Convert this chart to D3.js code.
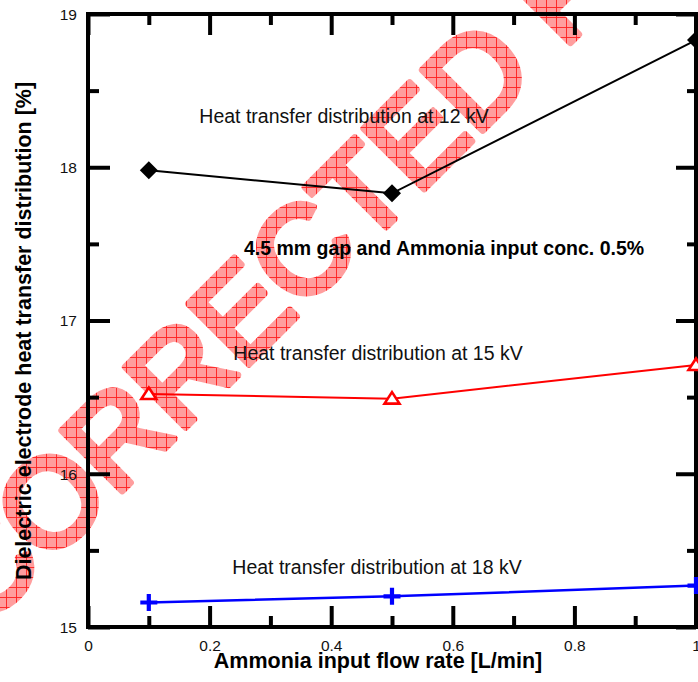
<!DOCTYPE html>
<html>
<head>
<meta charset="utf-8">
<script src="https://cdn.jsdelivr.net/npm/d3@7"></script>
<style>
  html, body { margin: 0; padding: 0; background: #fff; }
  svg { display: block; }
</style>
</head>
<body>
<svg id="chart" width="698" height="682"></svg>
<script>
// Flow rates and heat transfer shares at three applied voltages
const flowRates = [0.1, 0.5, 1.0];
const heat12kV = [17.98, 17.83, 18.83];
const heat15kV = [16.52, 16.49, 16.71];
const heat18kV = [15.16, 15.20, 15.27];

const xMajorTicks = [0, 0.2, 0.4, 0.6, 0.8, 1];
const xMinorTicks = [0.1, 0.3, 0.5, 0.7, 0.9];
const yMajorTicks = [15, 16, 17, 18, 19];
const yMinorTicks = [15.5, 16.5, 17.5, 18.5];

const xTitle = "Ammonia input flow rate [L/min]";
const yTitle = "Dielectric electrode heat transfer distribution [%]";
const seriesLabels = [
  "Heat transfer distribution at 12 kV",
  "Heat transfer distribution at 15 kV",
  "Heat transfer distribution at 18 kV"
];
const conditionLabel = "4.5 mm gap and Ammonia input conc. 0.5%";
const stampText = "UNCORRECTED PROOF";

const svg = d3.select("#chart");
const plotL = 88, plotR = 696, plotT = 14, plotB = 627;

const x = d3.scaleLinear().domain([0, 1]).range([plotL, plotR]);
const y = d3.scaleLinear().domain([15, 19]).range([plotB, plotT]);

// Hatched stamp fill
const defs = svg.append("defs");
const pat = defs.append("pattern")
  .attr("id", "hatch")
  .attr("patternUnits", "userSpaceOnUse")
  .attr("width", 10).attr("height", 10)
  .attr("patternTransform", "rotate(45)");
pat.append("rect").attr("width", 10).attr("height", 10).attr("fill", "rgb(255,158,158)");
pat.append("path").attr("d", "M0,0.5H10M0.5,0V10")
  .attr("stroke", "rgb(255,30,30)").attr("stroke-width", 0.9).attr("fill", "none");

svg.append("text")
  .attr("transform", "translate(366,247) rotate(-45)")
  .attr("text-anchor", "middle")
  .attr("font-family", "'Liberation Sans', Arial, sans-serif")
  .attr("font-size", 124)
  .attr("fill", "url(#hatch)")
  .attr("stroke", "url(#hatch)")
  .attr("stroke-width", 7)
  .attr("stroke-linejoin", "round")
  .text(stampText);

// Frame
svg.append("rect")
  .attr("x", plotL).attr("y", plotT)
  .attr("width", plotR - plotL).attr("height", plotB - plotT)
  .attr("fill", "none").attr("stroke", "#000").attr("stroke-width", 4);

const font = "'Liberation Sans', Arial, Helvetica, sans-serif";

function styleAxis(g) {
  g.select(".domain").remove();
  g.selectAll(".tick line").attr("stroke", "#000").attr("stroke-width", 4);
  g.selectAll(".tick text").attr("fill", "#111")
    .attr("font-family", font).attr("font-size", 15.5);
}

// Bottom axis: labelled major ticks, inward
svg.append("g").attr("transform", `translate(0,${plotB})`)
  .call(d3.axisBottom(x).tickValues(xMajorTicks).tickSize(-21).tickPadding(0)
    .tickFormat(d => String(d)))
  .call(styleAxis)
  .call(g => g.selectAll(".tick text").attr("dy", null).attr("y", 24));
svg.append("g").attr("transform", `translate(0,${plotB})`)
  .call(d3.axisBottom(x).tickValues(xMinorTicks).tickSize(-11).tickFormat(""))
  .call(styleAxis);

// Top axis ticks
svg.append("g").attr("transform", `translate(0,${plotT})`)
  .call(d3.axisTop(x).tickValues(xMajorTicks).tickSize(-21).tickFormat(""))
  .call(styleAxis);
svg.append("g").attr("transform", `translate(0,${plotT})`)
  .call(d3.axisTop(x).tickValues(xMinorTicks).tickSize(-11).tickFormat(""))
  .call(styleAxis);

// Left axis
svg.append("g").attr("transform", `translate(${plotL},0)`)
  .call(d3.axisLeft(y).tickValues(yMajorTicks).tickSize(-22).tickPadding(0)
    .tickFormat(d => String(d)))
  .call(styleAxis)
  .call(g => g.selectAll(".tick text").attr("x", -11).attr("dy", "0.35em"));
svg.append("g").attr("transform", `translate(${plotL},0)`)
  .call(d3.axisLeft(y).tickValues(yMinorTicks).tickSize(-11).tickFormat(""))
  .call(styleAxis);

// Right axis ticks
svg.append("g").attr("transform", `translate(${plotR},0)`)
  .call(d3.axisRight(y).tickValues(yMajorTicks).tickSize(-20).tickFormat(""))
  .call(styleAxis);
svg.append("g").attr("transform", `translate(${plotR},0)`)
  .call(d3.axisRight(y).tickValues(yMinorTicks).tickSize(-9).tickFormat(""))
  .call(styleAxis);

// Axis titles
svg.append("text")
  .attr("x", 378).attr("y", 668)
  .attr("text-anchor", "middle")
  .attr("font-family", font).attr("font-weight", "bold").attr("font-size", 21.5)
  .attr("fill", "#000")
  .text(xTitle);
svg.append("text")
  .attr("transform", "translate(31,331) rotate(-90)")
  .attr("text-anchor", "middle")
  .attr("font-family", font).attr("font-weight", "bold").attr("font-size", 21.5)
  .attr("fill", "#000")
  .text(yTitle);

// Series
const line = d3.line().x(d => x(d[0])).y(d => y(d[1]));
const pts = vals => flowRates.map((f, i) => [f, vals[i]]);

const series = [
  { vals: heat12kV, color: "#000", width: 2, symbol: "diamond" },
  { vals: heat15kV, color: "#f00", width: 2, symbol: "triangle" },
  { vals: heat18kV, color: "#00f", width: 2.5, symbol: "plus" }
];

series.forEach(s => {
  svg.append("path")
    .datum(pts(s.vals))
    .attr("d", line)
    .attr("fill", "none")
    .attr("stroke", s.color)
    .attr("stroke-width", s.width);

  const g = svg.append("g");
  pts(s.vals).forEach(p => {
    const cx = x(p[0]), cy = y(p[1]);
    if (s.symbol === "diamond") {
      g.append("path")
        .attr("d", `M${cx},${cy - 9}L${cx + 9},${cy}L${cx},${cy + 9}L${cx - 9},${cy}Z`)
        .attr("fill", s.color);
    } else if (s.symbol === "triangle") {
      g.append("path")
        .attr("d", `M${cx},${cy - 6.5}L${cx + 7.5},${cy + 5}L${cx - 7.5},${cy + 5}Z`)
        .attr("fill", "#fff").attr("stroke", s.color).attr("stroke-width", 2.6);
    } else {
      g.append("path")
        .attr("d", `M${cx - 8.5},${cy}H${cx + 8.5}M${cx},${cy - 8.5}V${cy + 8.5}`)
        .attr("stroke", s.color).attr("stroke-width", 4.2);
    }
  });
});

// Annotations
const notes = [
  { text: seriesLabels[0], x: 344, y: 123 },
  { text: seriesLabels[1], x: 378, y: 360 },
  { text: seriesLabels[2], x: 377, y: 574 }
];
notes.forEach(n => {
  svg.append("text")
    .attr("x", n.x).attr("y", n.y)
    .attr("text-anchor", "middle")
    .attr("font-family", font).attr("font-size", 19.5)
    .attr("fill", "#111")
    .text(n.text);
});
svg.append("text")
  .attr("x", 444).attr("y", 255)
  .attr("text-anchor", "middle")
  .attr("font-family", font).attr("font-weight", "bold").attr("font-size", 19.5)
  .attr("fill", "#000")
  .text(conditionLabel);
</script>
</body>
</html>
